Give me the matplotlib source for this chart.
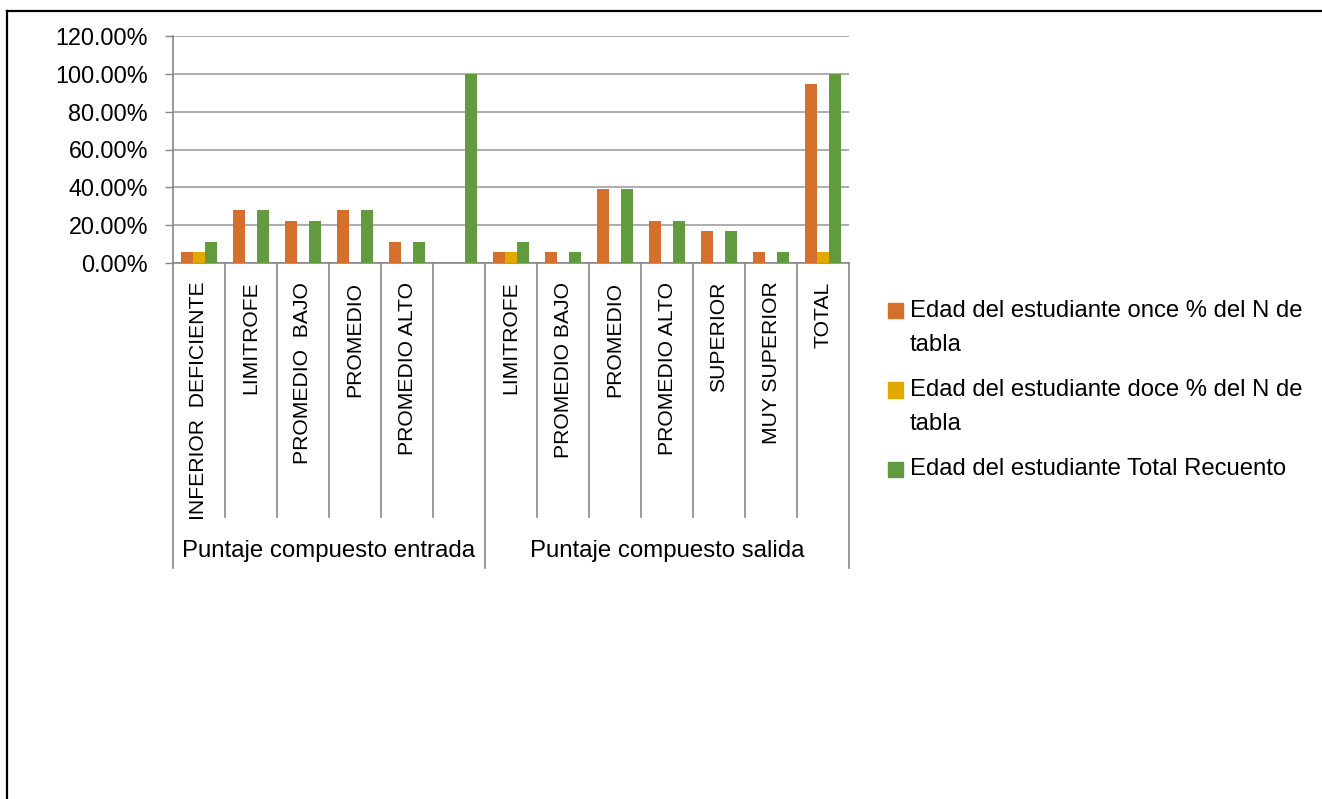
import textwrap
import numpy as np
import matplotlib
matplotlib.use('Agg')
import matplotlib.pyplot as plt
from matplotlib.lines import Line2D
from matplotlib.patches import Rectangle
from matplotlib.ticker import FuncFormatter

#%% datos
grupos = ['Puntaje compuesto entrada', 'Puntaje compuesto salida']
cat_entrada = ['INFERIOR  DEFICIENTE', 'LIMITROFE', 'PROMEDIO  BAJO', 'PROMEDIO', 'PROMEDIO ALTO', '']
cat_salida = ['LIMITROFE', 'PROMEDIO BAJO', 'PROMEDIO', 'PROMEDIO ALTO', 'SUPERIOR', 'MUY SUPERIOR', 'TOTAL']

series = ['Edad del estudiante once % del N de tabla',
          'Edad del estudiante doce % del N de tabla',
          'Edad del estudiante Total Recuento']
colores = ['#D4702C', '#E2A900', '#629B3D']

once = [5.56, 27.78, 22.22, 27.78, 11.11, 0.0,
        5.56, 5.56, 38.89, 22.22, 16.67, 5.56, 94.44]
doce = [5.56, 0.0, 0.0, 0.0, 0.0, 0.0,
        5.56, 0.0, 0.0, 0.0, 0.0, 0.0, 5.56]
total = [11.11, 27.78, 22.22, 27.78, 11.11, 100.0,
         11.11, 5.56, 38.89, 22.22, 16.67, 5.56, 100.0]

#%% figura
W, H = 1322, 799
plt.rcParams['font.family'] = ['Liberation Sans', 'DejaVu Sans']
fig = plt.figure(figsize=(W / 100, H / 100), dpi=100)
ax = fig.add_axes([173 / W, 1 - 263 / H, (849 - 173) / W, (263 - 36) / H])

gris = '#888888'
cats = cat_entrada + cat_salida
x = np.arange(len(cats))
bw = 0.225
for i, (vals, col) in enumerate(zip([once, doce, total], colores)):
    ax.bar(x + (i - 1) * bw, np.array(vals) / 100, bw, color=col, zorder=3)

ax.set_xlim(-0.5, len(cats) - 0.5)
ax.set_ylim(0, 1.2)
ax.set_yticks(np.arange(0, 1.21, 0.2))
ax.yaxis.set_major_formatter(FuncFormatter(lambda v, p: '%.2f%%' % (v * 100)))
ax.grid(axis='y', color='#A0A0A0', lw=1.2, zorder=0)
ax.tick_params(axis='y', length=6, width=1, color=gris, labelsize=16.8, pad=12)
ax.set_xticks(x)
ax.set_xticklabels(cats, rotation=90, va='top', ha='center', fontsize=15.2)
ax.tick_params(axis='x', length=0, pad=13.5)
for s in ['top', 'right']:
    ax.spines[s].set_visible(False)
for s in ['left', 'bottom']:
    ax.spines[s].set_color(gris)
    ax.spines[s].set_linewidth(1.2)

# separadores de categorias y grupos
tr = ax.get_xaxis_transform()
n1 = len(cat_entrada)
limites = np.arange(-0.5, len(cats), 1.0)
for b in limites:
    largo = b in (-0.5, n1 - 0.5, len(cats) - 0.5)
    ax.plot([b, b], [0, -1.344 if largo else -1.119], color=gris, lw=1.2,
            transform=tr, clip_on=False)

centros = [(n1 - 1) / 2, n1 + (len(cat_salida) - 1) / 2]
for g, c in zip(grupos, centros):
    ax.text(c, -1.269, g, transform=tr, ha='center', va='center', fontsize=17.3)

# leyenda
def px(xp, yp):
    return xp / W, 1 - yp / H

y0 = 311
for nombre, col in zip(series, colores):
    lineas = textwrap.wrap(nombre, 35)
    fig.patches.append(Rectangle(px(888, y0 + 7.5), 15 / W, 15 / H, color=col,
                                 transform=fig.transFigure))
    for k, l in enumerate(lineas):
        fig.text(*px(910, y0 + k * 34), l, ha='left', va='center', fontsize=17.2)
    y0 += 79

# borde
fig.add_artist(Line2D([6.5 / W, 1], [1 - 10.5 / H] * 2, color='black', lw=1.6))
fig.add_artist(Line2D([6.5 / W] * 2, [0, 1 - 10.5 / H], color='black', lw=1.6))

fig.savefig('out.png', dpi=100)
